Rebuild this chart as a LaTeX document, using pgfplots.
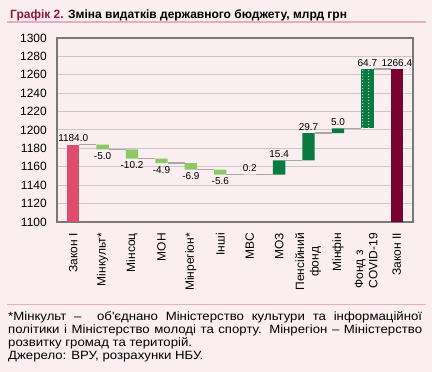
\documentclass[border=0pt]{standalone}
\usepackage{fontspec}
\setmainfont{Liberation Sans}
\newfontfamily\footfont[FakeStretch=1.1]{Liberation Sans}
\usepackage{pgfplots}
\pgfplotsset{compat=1.18}
\usepackage{pgfplotstable}
\usetikzlibrary{patterns.meta}

\definecolor{bgpink}{RGB}{250,238,241}
\definecolor{rulepink}{RGB}{229,176,190}
\definecolor{titlered}{RGB}{140,24,60}
\definecolor{zakI}{RGB}{223,76,108}
\definecolor{zakII}{RGB}{120,0,50}
\definecolor{lgreen}{RGB}{141,200,102}
\definecolor{dgreen}{RGB}{10,122,66}
\definecolor{conn}{RGB}{166,166,166}
\definecolor{gridc}{RGB}{200,200,200}
\definecolor{framec}{RGB}{120,120,120}

\tikzdeclarepattern{
  name=covdots,
  type=uncolored,
  bounding box={(0,0) and (6pt,3.3pt)},
  tile size={(6pt,3.3pt)},
  code={\fill (3pt,1.65pt) circle (0.6pt);}
}

\pgfplotstableread{
x base zI neg pos cov zII
0 0 1184 0 0 0 0
1 1179 0 5.0 0 0 0
2 1168.8 0 10.2 0 0 0
3 1163.9 0 4.9 0 0 0
4 1157.0 0 6.9 0 0 0
5 1151.4 0 5.6 0 0 0
6 1151.4 0 0 0.2 0 0
7 1151.6 0 0 15.4 0 0
8 1167.0 0 0 29.7 0 0
9 1196.7 0 0 5.0 0 0
10 1201.7 0 0 0 64.7 0
11 0 0 0 0 0 1266.4
}\bars

\pgfplotstableread{
x y
0.21 1184
0.79 1184
nan nan
1.21 1179
1.79 1179
nan nan
2.21 1168.8
2.79 1168.8
nan nan
3.21 1163.9
3.79 1163.9
nan nan
4.21 1157.0
4.79 1157.0
nan nan
5.21 1151.4
5.79 1151.4
nan nan
6.21 1151.6
6.79 1151.6
nan nan
7.21 1167.0
7.79 1167.0
nan nan
8.21 1196.7
8.79 1196.7
nan nan
9.21 1201.7
9.79 1201.7
nan nan
10.21 1266.4
10.79 1266.4
}\connectors

\pgfplotstableread{
x y lab
0 1184 1184.0
6 1151.6 0.2
7 1167.0 15.4
8 1196.7 29.7
9 1201.7 5.0
10 1266.4 64.7
11 1266.4 1266.4
}\labup

\pgfplotstableread{
x y lab
1 1179 -5.0
2 1168.8 -10.2
3 1163.9 -4.9
4 1157.0 -6.9
5 1151.4 -5.6
}\labdown

\begin{document}
\begin{tikzpicture}
\fill[bgpink] (0pt,0pt) rectangle (432pt,-372pt);
\useasboundingbox (0pt,0pt) rectangle (432pt,-372pt);

\node[anchor=base west, inner sep=0pt, font=\fontsize{12}{14}\selectfont\bfseries] at (10pt,-18pt)
  {\textcolor{titlered}{Графік 2.} Зміна видатків державного бюджету, млрд грн};
\draw[rulepink, line width=1.5pt] (7pt,-22pt) -- (426pt,-22pt);
\draw[rulepink, line width=1.5pt] (7pt,-304.7pt) -- (426pt,-304.7pt);

\node[anchor=north west, inner sep=0pt, text width=414pt, align=justify,
      font=\footfont\fontsize{12}{12.8}\selectfont] at (8pt,-311.5pt)
  {*Мінкульт –\ \ об\textquotesingle єднано Міністерство культури та інформаційної\linebreak
   політики і Міністерство молоді та спорту. Мінрегіон – Міністерство\linebreak
   розвитку громад та територій.\par
   Джерело: ВРУ, розрахунки НБУ.};

\begin{axis}[
  at={(57pt,-222pt)}, anchor=south west, scale only axis,
  width=356pt, height=184pt,
  xmin=-0.55, xmax=11.55, ymin=1100, ymax=1300,
  ybar stacked, bar width=0.42,
  ytick={1100,1120,...,1300}, xtick={0,...,11},
  xticklabels={Закон I, Мінкульт*\hspace{7pt}, Мінсоц, МОН, Мінрегіон*\hspace{7pt}, Інші, МВС, МОЗ,
    {\begin{tabular}{@{}c@{}}Пенсійний\\фонд\end{tabular}}, Мінфін,
    {\begin{tabular}{@{}l@{}}Фонд з\\COVID-19\end{tabular}}, Закон II},
  ymajorgrids, major grid style={gridc, line width=1pt},
  major tick length=0pt,
  axis line style={framec, line width=1.6pt},
  tick label style={font=\fontsize{12}{14.4}\selectfont, inner sep=0pt},
  yticklabel shift=10pt,
  xticklabel shift=11pt,
  xticklabel style={rotate=90, anchor=east},
  /pgf/number format/assume math mode=true,
  /pgf/number format/1000 sep={},
  axis background/.style={fill=bgpink},
]
\addplot[draw=none, fill=none] table[x=x, y=base] {\bars};
\addplot[draw=none, fill=zakI] table[x=x, y=zI] {\bars};
\addplot[draw=none, fill=lgreen] table[x=x, y=neg] {\bars};
\addplot[draw=none, fill=dgreen] table[x=x, y=pos] {\bars};
\addplot[draw=none, fill=dgreen, postaction={pattern=covdots, pattern color=white}] table[x=x, y=cov] {\bars};
\addplot[draw=none, fill=zakII] table[x=x, y=zII] {\bars};
\end{axis}

\begin{axis}[
  at={(57pt,-222pt)}, anchor=south west, scale only axis,
  width=356pt, height=184pt,
  xmin=-0.55, xmax=11.55, ymin=1100, ymax=1300,
  hide axis, clip=false, unbounded coords=jump,
]
\addplot[conn, line width=1.5pt, no marks] table[x=x, y=y] {\connectors};
\addplot[draw=none, no marks, nodes near coords, point meta=explicit symbolic,
  every node near coord/.append style={anchor=south, text=black, inner sep=0pt, yshift=2.5pt,
    font=\fontsize{10}{12}\selectfont}]
  table[x=x, y=y, meta=lab] {\labup};
\addplot[draw=none, no marks, nodes near coords, point meta=explicit symbolic,
  every node near coord/.append style={anchor=north, text=black, inner sep=0pt, yshift=-3pt,
    font=\fontsize{10}{12}\selectfont}]
  table[x=x, y=y, meta=lab] {\labdown};
\end{axis}
\end{tikzpicture}
\end{document}
